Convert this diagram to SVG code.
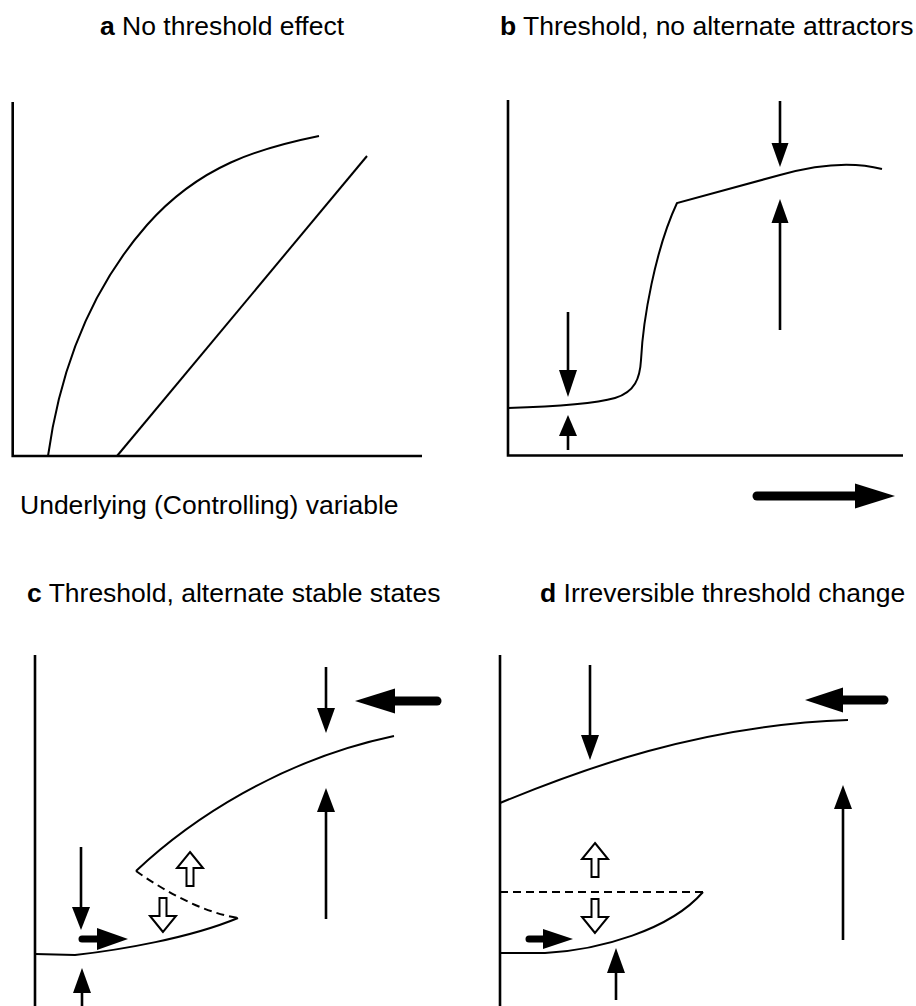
<svg xmlns="http://www.w3.org/2000/svg" xmlns:xlink="http://www.w3.org/1999/xlink" width="916" height="1006" viewBox="0 0 916 1006">
<style>
.t{font-family:"Liberation Sans",Arial,sans-serif;font-size:26.5px;fill:#000}
.b{font-weight:bold}
.ax{stroke:#000;stroke-width:2.6;fill:none}
.cv{stroke:#000;stroke-width:2;fill:none}
.ds{stroke:#000;stroke-width:2;fill:none;stroke-dasharray:8 5}
.sh{stroke:#000;stroke-width:2.6;fill:none}
.th{stroke:#000;stroke-width:9;stroke-linecap:round;fill:none}
.hd{fill:#000}
.op{fill:#fff;stroke:#000;stroke-width:2;stroke-linejoin:miter}
</style>
<defs>
<path id="openUp" d="M0,0 L13,16 L3.5,16 L3.5,34 L-3.5,34 L-3.5,16 L-13,16 Z"/>
</defs>
<rect width="916" height="1006" fill="#fff"/>

<g id="titles">
<text class="t" x="100" y="35"><tspan class="b">a</tspan> No threshold effect</text>
<text class="t" x="500" y="35"><tspan class="b">b</tspan> Threshold, no alternate attractors</text>
<text class="t" x="20" y="514">Underlying (Controlling) variable</text>
<text class="t" x="27" y="602"><tspan class="b">c</tspan> Threshold, alternate stable states</text>
<text class="t" x="540" y="602"><tspan class="b">d</tspan> Irreversible threshold change</text>
</g>

<g id="panel-a">
<path class="ax" d="M12.7,102 V456 H422"/>
<path class="cv" d="M48,456 C60,370 90,290 147,225 C200,165 260,148 319,136"/>
<path class="cv" d="M117,456 L367,156"/>
</g>

<g id="panel-b">
<path class="ax" d="M508,100 V455.5 H903"/>
<path class="cv" d="M508,408 C540,407 590,405 615,398 C635,392 640,378 641,360 C643,320 655,250 677,203 L780,175 Q840,158 882,169"/>
</g>

<g id="panel-c">
<path class="ax" d="M35,655 V1006"/>
<path class="cv" d="M35,954 L75,955 C120,950 190,938 238,918"/>
<path class="ds" d="M136,871 C160,888 200,912 238,918"/>
<path class="cv" d="M136,871 C190,820 280,760 394,736"/>
</g>

<g id="panel-d">
<path class="ax" d="M500,655 V1006"/>
<path class="cv" d="M500,803 C580,770 700,725 848,720"/>
<path class="cv" d="M500,953 L545,953 C600,950 670,930 703,892"/>
<path class="ds" d="M500,892 L703,892"/>
</g>

<g id="connectors">
<!-- panel b -->
<line class="sh" x1="568" y1="312" x2="568" y2="374"/>
<polygon class="hd" points="568,397 559,370 577,370"/>
<line class="sh" x1="568" y1="433" x2="568" y2="450"/>
<polygon class="hd" points="568,415 559,436 577,436"/>
<line class="sh" x1="780" y1="101" x2="780" y2="146"/>
<polygon class="hd" points="780,167 771.5,143 788.5,143"/>
<line class="sh" x1="780" y1="220" x2="780" y2="330"/>
<polygon class="hd" points="780,199 771.5,223 788.5,223"/>
<line class="th" x1="757" y1="496" x2="860" y2="496"/>
<polygon class="hd" points="895,496 855,483.5 855,508.5"/>

<!-- panel c -->
<line class="sh" x1="81" y1="847" x2="81" y2="910"/>
<polygon class="hd" points="81,930 72,907 90,907"/>
<line class="sh" x1="82" y1="990" x2="82" y2="1006"/>
<polygon class="hd" points="82,968 73,993 91,993"/>
<line class="th" style="stroke-width:7" x1="82" y1="939" x2="100" y2="939"/>
<polygon class="hd" points="128,939 97,928 97,950"/>
<line class="sh" x1="326" y1="667" x2="326" y2="711"/>
<polygon class="hd" points="326,733 317,708 335,708"/>
<line class="sh" x1="326" y1="809" x2="326" y2="919"/>
<polygon class="hd" points="326,788 317,812 335,812"/>
<line class="th" x1="390" y1="701" x2="437" y2="701"/>
<polygon class="hd" points="355,701 395,688.5 395,713.5"/>
<use xlink:href="#openUp" href="#openUp" class="op" transform="translate(190,852)"/>
<use xlink:href="#openUp" href="#openUp" class="op" transform="translate(163,932) rotate(180)"/>

<!-- panel d -->
<line class="sh" x1="590" y1="665" x2="590" y2="738"/>
<polygon class="hd" points="590,760 581,735 599,735"/>
<line class="sh" x1="843" y1="806" x2="843" y2="940"/>
<polygon class="hd" points="843,785 834,809 852,809"/>
<line class="th" x1="838" y1="700" x2="884" y2="700"/>
<polygon class="hd" points="805,700 843,687.5 843,712.5"/>
<line class="th" style="stroke-width:7" x1="529" y1="939" x2="546" y2="939"/>
<polygon class="hd" points="573,939 543,929 543,949"/>
<line class="sh" x1="616" y1="970" x2="616" y2="1000"/>
<polygon class="hd" points="616,948 607,973 625,973"/>
<use xlink:href="#openUp" href="#openUp" class="op" transform="translate(595,843)"/>
<use xlink:href="#openUp" href="#openUp" class="op" transform="translate(595,933) rotate(180)"/>
</g>
</svg>
